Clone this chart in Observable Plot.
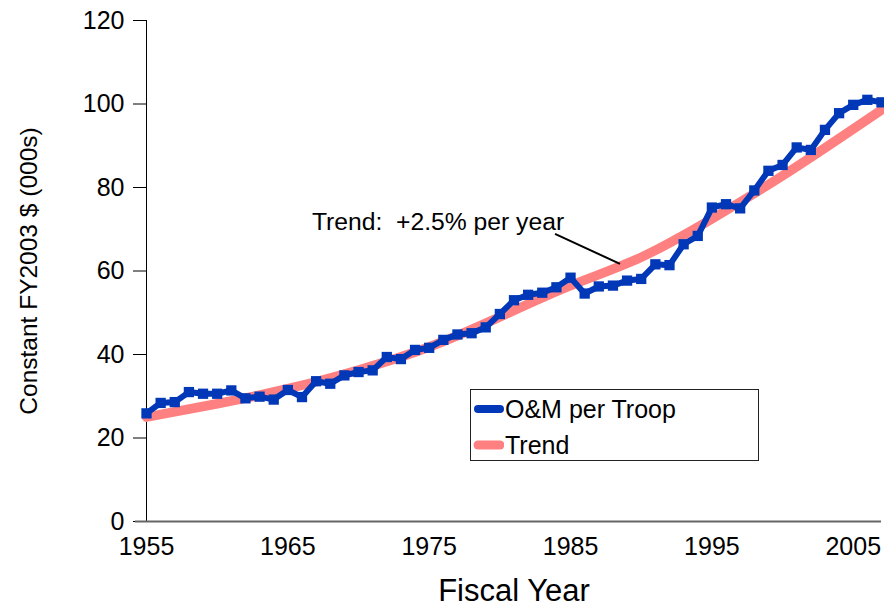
<!DOCTYPE html>
<html>
<head>
<meta charset="utf-8">
<script src="https://cdn.jsdelivr.net/npm/d3@7"></script>
<script src="https://cdn.jsdelivr.net/npm/@observablehq/plot@0.6"></script>
<style>
  html, body { margin: 0; padding: 0; background: #fff; }
  #wrap { position: relative; width: 884px; height: 607px; font-family: "Liberation Sans", Arial, sans-serif; }
  #legend { position: absolute; left: 470px; top: 389px; width: 289px; height: 72px; box-sizing: border-box;
            border: 1.5px solid #222; background: #fff; }
  .row { position: absolute; left: 2px; height: 30px; display: flex; align-items: center; font-size: 25px; color: #000; }
  .row svg { margin-right: 1px; }
</style>
</head>
<body>
<div id="wrap">
  <div id="chart"></div>
  <div id="legend"></div>
</div>
<script>
// ---- data ----
const years = [1955,1956,1957,1958,1959,1960,1961,1962,1963,1964,1965,1966,1967,1968,1969,1970,1971,1972,1973,1974,1975,1976,1977,1978,1979,1980,1981,1982,1983,1984,1985,1986,1987,1988,1989,1990,1991,1992,1993,1994,1995,1996,1997,1998,1999,2000,2001,2002,2003,2004,2005,2006,2007];
const omPerTroop = [25.9,28.4,28.6,31.0,30.6,30.6,31.4,29.5,29.9,29.2,31.5,29.8,33.6,33.0,35.0,35.8,36.2,39.4,38.9,41.1,41.6,43.5,44.8,45.1,46.5,49.7,53.0,54.3,54.8,56.1,58.4,54.6,56.3,56.5,57.7,58.1,61.6,61.4,66.4,68.4,75.2,76.0,75.0,79.3,84.0,85.4,89.6,89.0,93.8,97.8,99.8,101.0,100.4];
const trendYears = [1955,1960,1965,1970,1975,1980,1985,1990,1995,2000,2005,2007];
const trendValues = [25.0,28.2,31.8,36.3,41.8,49.0,56.5,63.3,72.5,82.8,94.0,98.6];
const xTicks = [1955,1965,1975,1985,1995,2005];
const yTicks = [0,20,40,60,80,100,120];
const seriesNames = ["O&M per Troop", "Trend"];
const annotationText = "Trend:  +2.5% per year";
const annotationAt = {x: 1966.7, y: 71.6};
const leader = {x1: 1983.9, y1: 68.9, x2: 1988.5, y2: 61.7};
const xLabel = "Fiscal Year";
const yLabel = "Constant FY2003 $ (000s)";

const blue = "#0038B8";
const pink = "#FF8080";

const om = years.map((y, i) => ({year: y, value: omPerTroop[i]}));
const trend = trendYears.map((y, i) => ({year: y, value: trendValues[i]}));

const chart = Plot.plot({
  width: 884,
  height: 607,
  marginLeft: 146,
  marginRight: 3,
  marginTop: 20,
  marginBottom: 86,
  style: {fontFamily: "'Liberation Sans', Arial, sans-serif", fontSize: "25px", color: "#000", background: "#fff", overflow: "visible"},
  x: {domain: [1955, 2007]},
  y: {domain: [0, 120]},
  marks: [
    Plot.axisX({ticks: xTicks, tickFormat: "d", tickSize: 0, tickPadding: 16, label: null, fontSize: 25}),
    Plot.axisY({ticks: yTicks, tickSize: 13, tickPadding: 9, label: null, fontSize: 25}),
    Plot.ruleX([1955], {stroke: "#000", strokeWidth: 1}),
    Plot.ruleY([0], {stroke: "#666", strokeWidth: 2, insetLeft: -11}),
    Plot.line(trend, {x: "year", y: "value", stroke: pink, strokeWidth: 9.5, curve: "natural"}),
    Plot.line(om, {x: "year", y: "value", stroke: blue, strokeWidth: 6, strokeLinejoin: "round"}),
    Plot.dot(om, {x: "year", y: "value", symbol: "square", r: 5.8, fill: blue, stroke: "none"}),
    Plot.link([leader], {x1: "x1", y1: "y1", x2: "x2", y2: "y2", stroke: "#000", strokeWidth: 2}),
    Plot.text([annotationAt], {x: "x", y: "y", text: () => annotationText, textAnchor: "start", fontSize: 24.7, fill: "#000"}),
    Plot.text([xLabel], {frameAnchor: "bottom", dy: 79, text: d => d, fontSize: 31, fill: "#000"}),
    Plot.text([yLabel], {frameAnchor: "left", textAnchor: "middle", dx: -117, rotate: -90, text: d => d, fontSize: 24.5, fill: "#000"})
  ]
});
document.getElementById("chart").appendChild(chart);

// legend
const legend = document.getElementById("legend");
const swatchColors = [blue, pink];
const rowTops = [4, 40];
seriesNames.forEach((name, i) => {
  const row = document.createElement("div");
  row.className = "row";
  row.style.top = rowTops[i] + "px";
  const sw = d3.create("svg").attr("width", 31).attr("height", 12);
  sw.append("line").attr("x1", 5).attr("x2", 27).attr("y1", 6).attr("y2", 6)
    .attr("stroke", swatchColors[i]).attr("stroke-width", i === 0 ? 8 : 9).attr("stroke-linecap", "round");
  row.appendChild(sw.node());
  const t = document.createElement("span");
  t.textContent = name;
  row.appendChild(t);
  legend.appendChild(row);
});
</script>
</body>
</html>
